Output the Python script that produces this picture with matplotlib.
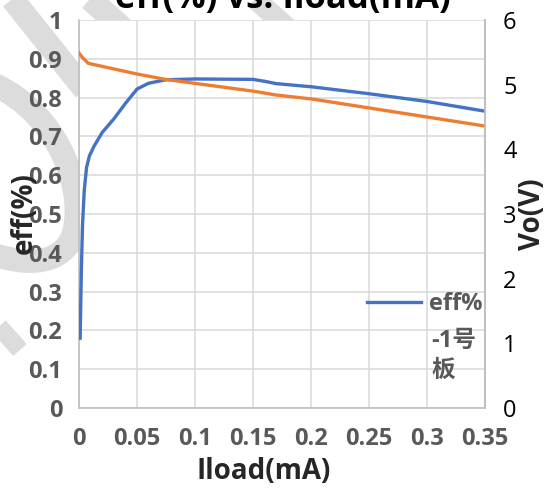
import matplotlib
matplotlib.use("Agg")
import matplotlib.pyplot as plt
from matplotlib.path import Path
from matplotlib.patches import PathPatch

plt.rcParams["font.family"] = ["Open Sans", "Noto Sans CJK SC", "DejaVu Sans"]

# ---- data ----
iload_eff = [0.001, 0.002, 0.003, 0.0045, 0.0065, 0.009, 0.013, 0.02, 0.03,
             0.04, 0.05, 0.06, 0.075, 0.1, 0.15, 0.16, 0.17, 0.2, 0.25, 0.3, 0.35]
eff = [0.18, 0.35, 0.47, 0.56, 0.62, 0.65, 0.675, 0.71, 0.745,
       0.785, 0.822, 0.837, 0.846, 0.848, 0.847, 0.842, 0.836, 0.828, 0.81, 0.79, 0.765]

iload_vo = [0.0, 0.003, 0.008, 0.05, 0.075, 0.15, 0.17, 0.2, 0.25, 0.3, 0.35]
vo = [5.49, 5.42, 5.33, 5.165, 5.08, 4.90, 4.84, 4.78, 4.64, 4.50, 4.36]

x_ticks = [0, 0.05, 0.1, 0.15, 0.2, 0.25, 0.3, 0.35]
x_labels = ["0", "0.05", "0.1", "0.15", "0.2", "0.25", "0.3", "0.35"]
eff_ticks = [0, 0.1, 0.2, 0.3, 0.4, 0.5, 0.6, 0.7, 0.8, 0.9, 1]
eff_labels = ["0", "0.1", "0.2", "0.3", "0.4", "0.5", "0.6", "0.7", "0.8", "0.9", "1"]
vo_ticks = [0, 1, 2, 3, 4, 5, 6]

BLUE = "#4472C4"
ORANGE = "#ED7D31"
GRAY = "#595959"
W, H = 555, 492

fig = plt.figure(figsize=(W / 100, H / 100), dpi=100)
ax = fig.add_axes([79 / W, 1 - 408 / H, (485 - 79) / W, (408 - 20) / H])


# faint watermark bands behind the chart (image pixel coords)
def band(verts, codes, lw):
    v = [(x, H - y) for x, y in verts]
    p = PathPatch(Path(v, codes), fill=False, lw=lw, ec="#dcdcdc",
                  transform=None, zorder=-5, capstyle="butt")
    fig.add_artist(p)


M, L, C = Path.MOVETO, Path.LINETO, Path.CURVE4
band([(5, -10), (45, 40), (85, 90)], [M, L, L], 17)
band([(80, -10), (130, 35)], [M, L], 17)
band([(245, -10), (290, 30)], [M, L], 15)
band([(-5, 85), (60, 115), (88, 195), (72, 238),
      (58, 268), (20, 263), (-5, 255)], [M, C, C, C, C, C, C], 17)
band([(-5, 322), (20, 350)], [M, L], 13)

# ---- main axis: efficiency ----
ax.plot(iload_eff, eff, color=BLUE, lw=2.4, label="eff%",
        solid_joinstyle="round", zorder=3)
ax.set_xlim(0, 0.35)
ax.set_ylim(0, 1)
ax.set_xticks(x_ticks)
ax.set_xticklabels(x_labels)
ax.set_yticks(eff_ticks)
ax.set_yticklabels(eff_labels)
ax.grid(color="#d9d9d9", lw=1.1)
ax.set_axisbelow(True)
ax.spines["top"].set_visible(False)
for s in ["left", "bottom", "right"]:
    ax.spines[s].set_color("#bfbfbf")
    ax.spines[s].set_linewidth(1.2)
ax.tick_params(axis="both", length=0, colors=GRAY, labelsize=17)
ax.tick_params(axis="x", pad=14)
ax.tick_params(axis="y", pad=12)
for lab in ax.get_xticklabels() + ax.get_yticklabels():
    lab.set_fontweight("bold")

# ---- secondary axis: output voltage ----
ax2 = ax.twinx()
ax2.plot(iload_vo, vo, color=ORANGE, lw=2.4, solid_joinstyle="round", zorder=2)
ax2.set_ylim(0, 6)
ax2.set_yticks(vo_ticks)
ax2.tick_params(axis="y", length=0, colors="black", labelsize=17, pad=13)
for s in ["top", "left", "bottom"]:
    ax2.spines[s].set_visible(False)
ax2.spines["right"].set_color("#bfbfbf")
ax2.spines["right"].set_linewidth(1.2)

# ---- text ----
fig.text(283 / W, 1 - 8 / H, "eff(%) vs. Iload(mA)", ha="center", va="baseline",
         fontsize=25, fontweight="bold", color="black")
fig.text(24 / W, 1 - 213 / H, "eff(%)", rotation=90, ha="center", va="center",
         fontsize=20, fontweight="bold", color="#262626")
fig.text(532 / W, 1 - 214 / H, "Vo(V)", rotation=90, ha="center", va="center",
         fontsize=20, fontweight="bold", color="#262626")
fig.text(264 / W, 1 - 479 / H, "Iload(mA)", ha="center", va="baseline",
         fontsize=20, fontweight="bold", color="#262626")

leg = ax.legend(loc="upper left", bbox_to_anchor=((367 - 79) / 406, (408 - 292) / 388),
                frameon=False, borderpad=0, borderaxespad=0, handlelength=2.3,
                handletextpad=0.33, prop={"size": 17, "weight": "bold"})
for t in leg.get_texts():
    t.set_color(GRAY)
leg.set_zorder(5)
# the legend entry wraps onto two more lines in the reference
for txt, base in [("-1号", 347), ("板", 377)]:
    ax.text((431 - 79) / 406, (408 - base) / 388, txt, transform=ax.transAxes,
            ha="left", va="baseline", fontsize=17, fontweight="bold", color=GRAY,
            zorder=5)

fig.savefig("out.png", dpi=100)
